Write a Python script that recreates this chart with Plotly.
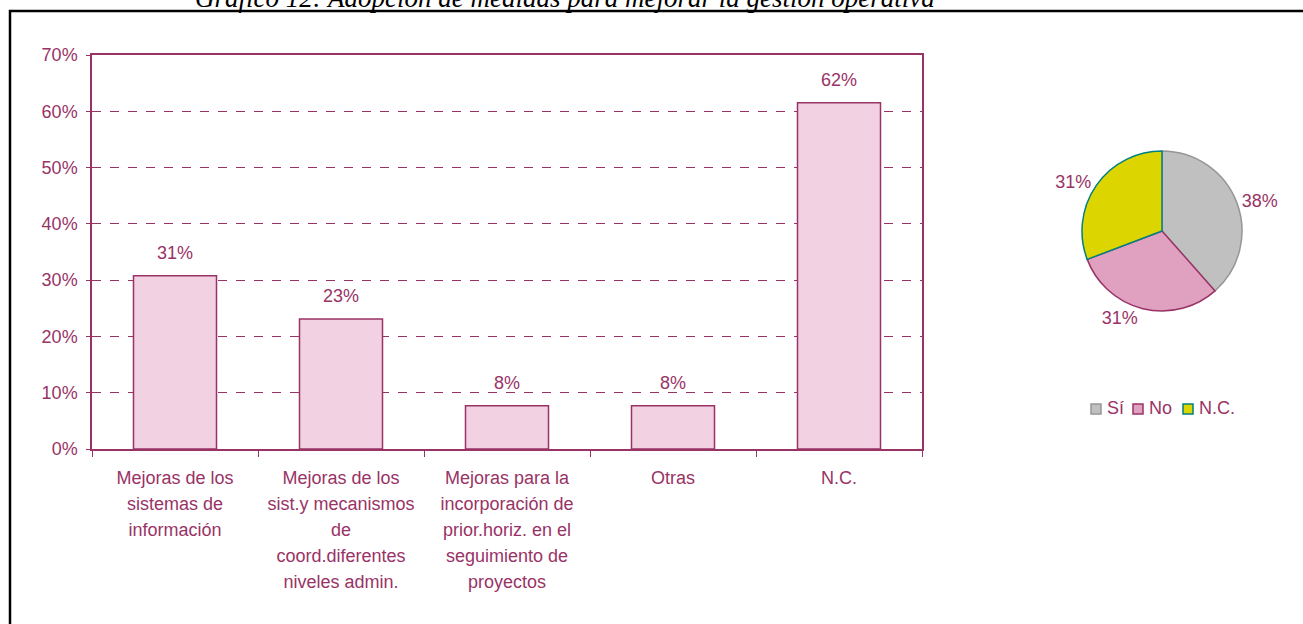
import plotly.graph_objects as go

# ---------------- data ----------------
categories = [
    "Mejoras de los<br>sistemas de<br>información",
    "Mejoras de los<br>sist.y mecanismos<br>de<br>coord.diferentes<br>niveles admin.",
    "Mejoras para la<br>incorporación de<br>prior.horiz. en el<br>seguimiento de<br>proyectos",
    "Otras",
    "N.C.",
]
bar_values = [30.8, 23.1, 7.7, 7.7, 61.5]

pie_labels = ["Sí", "No", "N.C."]
pie_values = [38.5, 30.8, 30.8]
pie_fill = ["#C0C0C0", "#E0A0C0", "#DDD500"]
pie_line = ["#969696", "#993366", "#008080"]

y_ticks = [0, 10, 20, 30, 40, 50, 60, 70]

title_text = "Gráfico 12: Adopción de medidas para mejorar la gestión operativa"

# ---------------- style ----------------
MAROON = "#993366"
FONT = "Liberation Sans, Arial, sans-serif"
FS = 18

W, H = 1303, 624
L, R, T, B = 92, 10, 55, 175
plot_w = W - L - R
plot_h = H - T - B
bar_right_px = 922
x_dom_end = (bar_right_px - L) / plot_w


def px_x(px):
    return (px - L) / plot_w


def px_y(py):
    return (H - B - py) / plot_h


fig = go.Figure()

fig.add_trace(go.Bar(
    x=categories,
    y=bar_values,
    width=0.5,
    marker=dict(color="#F2D2E2", line=dict(color=MAROON, width=1.5)),
    showlegend=False,
    hoverinfo="skip",
))

# value labels above bars
for c, v in zip(categories, bar_values):
    fig.add_annotation(
        x=c, y=v, xref="x", yref="y",
        text=f"{round(v)}%", showarrow=False,
        yanchor="bottom", yshift=11,
        font=dict(family=FONT, size=FS, color=MAROON),
    )

fig.add_trace(go.Pie(
    labels=pie_labels,
    values=pie_values,
    sort=False,
    direction="clockwise",
    rotation=0,
    marker=dict(colors=pie_fill, line=dict(color=pie_line, width=1.5)),
    texttemplate="%{percent:.0%}",
    textposition="outside",
    textfont=dict(family=FONT, size=FS, color=MAROON),
    domain=dict(x=[px_x(1082), px_x(1242)], y=[px_y(311), px_y(151)]),
    showlegend=False,
    hoverinfo="skip",
))

# custom legend for the pie
legend_x = [1091, 1133, 1183]
for lab, fc, lc, lx in zip(pie_labels, pie_fill, pie_line, legend_x):
    fig.add_shape(
        type="rect", xref="paper", yref="paper",
        x0=px_x(lx), x1=px_x(lx + 10), y0=px_y(414), y1=px_y(404),
        fillcolor=fc, line=dict(color=lc, width=1.5),
    )
    fig.add_annotation(
        x=px_x(lx + 14), y=px_y(408), xref="paper", yref="paper",
        text=lab, showarrow=False, xanchor="left", yanchor="middle",
        font=dict(family=FONT, size=FS, color=MAROON),
    )

# outer frame
fig.add_shape(
    type="rect", xref="paper", yref="paper",
    x0=px_x(10), x1=px_x(1330), y0=px_y(650), y1=px_y(11),
    line=dict(color="black", width=2.5), fillcolor="rgba(0,0,0,0)",
    layer="below",
)

# title (partially cut by the top edge, as in the reference)
fig.add_annotation(
    x=px_x(565), y=px_y(15), xref="paper", yref="paper",
    text=f"<i>{title_text}</i>", showarrow=False,
    xanchor="center", yanchor="bottom",
    font=dict(family="Liberation Serif, Times New Roman, serif", size=27, color="black"),
)

ticktext = [f"<span style='font-size:{FS}px'>{c}</span>" for c in categories]

fig.update_layout(
    width=W, height=H,
    margin=dict(l=L, r=R, t=T, b=B),
    paper_bgcolor="white",
    plot_bgcolor="white",
    font=dict(family=FONT, size=FS, color=MAROON),
    bargap=0.5,
    xaxis=dict(
        domain=[0, x_dom_end],
        type="category",
        tickmode="array",
        tickvals=categories,
        ticktext=ticktext,
        tickson="boundaries",
        ticks="outside",
        ticklen=6,
        tickcolor=MAROON,
        ticklabelstandoff=9,
        tickfont=dict(family=FONT, size=20, color=MAROON),
        showline=True, linecolor=MAROON, linewidth=1.5, mirror=True,
        showgrid=False,
        fixedrange=True,
    ),
    yaxis=dict(
        range=[0, 70],
        tickvals=y_ticks,
        ticktext=[f"{t}%" for t in y_ticks],
        ticks="outside",
        ticklen=4,
        tickcolor=MAROON,
        ticklabelstandoff=5,
        tickfont=dict(family=FONT, size=FS, color=MAROON),
        showline=True, linecolor=MAROON, linewidth=1.5, mirror=True,
        showgrid=True, gridcolor=MAROON, griddash="dash", gridwidth=1,
        zeroline=False,
        fixedrange=True,
    ),
)

fig.write_html(
    "out.html",
    config={"displayModeBar": False},
    post_script="document.body.style.margin='0';document.body.style.overflow='hidden';",
)
